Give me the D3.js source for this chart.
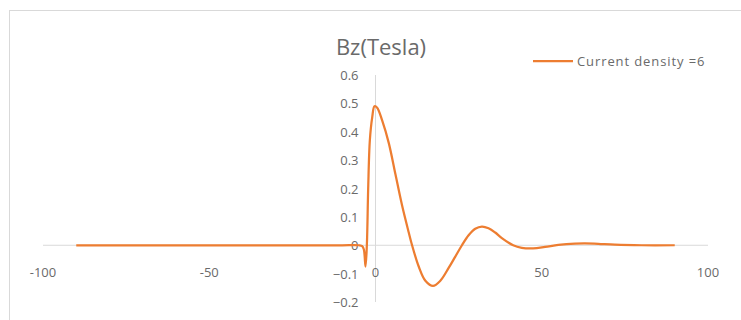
<!DOCTYPE html>
<html>
<head>
<meta charset="utf-8">
<script src="https://cdn.jsdelivr.net/npm/d3@7"></script>
<style>
  html, body { margin: 0; padding: 0; background: #fff; }
  svg { display: block; }
</style>
</head>
<body>
<svg id="chart" width="741" height="320"></svg>
<script>
const title = "Bz(Tesla)";
const seriesName = "Current density =6";
const xValues = [-90, -80, -70, -60, -50, -40, -30, -20, -10, -5, -4, -3.5, -3, -2.6, -2.2, -1.7, -1, -0.3, 0.5, 2, 4, 6, 8, 10, 11, 13, 15, 17.3, 19.5, 22, 24, 26, 28, 30, 32, 34, 36, 38, 41.4, 44, 47.4, 51, 55, 60, 63, 67, 72, 80, 90];
const yValues = [0, 0, 0, 0, 0, 0, 0, 0, 0, 0, -0.003, -0.015, -0.075, 0, 0.2, 0.37, 0.45, 0.49, 0.485, 0.44, 0.36, 0.25, 0.14, 0.045, 0, -0.075, -0.125, -0.143, -0.125, -0.08, -0.04, 0, 0.035, 0.058, 0.066, 0.06, 0.045, 0.025, 0, -0.009, -0.011, -0.006, 0.001, 0.006, 0.007, 0.005, 0.002, 0, 0];
const xTicks = [-100, -50, 0, 50, 100];
const yTicks = [-0.2, -0.1, 0, 0.1, 0.2, 0.3, 0.4, 0.5, 0.6];

const data = xValues.map((x, i) => ({x, y: yValues[i]}));
const svg = d3.select("#chart");
const font = "'Segoe UI', 'Open Sans', 'DejaVu Sans', sans-serif";
const grey = "#6a6a6a";
const axisCol = "#d9d9d9";
const orange = "#ED7D31";

// chart border
svg.append("rect").attr("x", 9.5).attr("y", 10.5).attr("width", 740).attr("height", 330)
  .attr("fill", "none").attr("stroke", "#d9d9d9").attr("stroke-width", 1);

const x = d3.scaleLinear().domain([-100, 100]).range([43, 708]);
const y = d3.scaleLinear().domain([-0.2, 0.6]).range([302, 75]);

// horizontal axis line
svg.append("line").attr("x1", x(-100)).attr("x2", x(100))
  .attr("y1", y(0)).attr("y2", y(0)).attr("stroke", axisCol).attr("stroke-width", 1);
// vertical axis line
svg.append("line").attr("x1", x(0)).attr("x2", x(0))
  .attr("y1", y(0.6)).attr("y2", y(-0.2)).attr("stroke", axisCol).attr("stroke-width", 1);

// x tick labels
svg.append("g").selectAll("text").data(xTicks).join("text")
  .attr("x", d => x(d)).attr("y", 277)
  .attr("text-anchor", "middle")
  .attr("font-family", font).attr("font-size", 13).attr("fill", grey)
  .text(d => d);

// y tick labels
svg.append("g").selectAll("text").data(yTicks).join("text")
  .attr("x", x(0) - 17).attr("y", d => y(d) + 5)
  .attr("text-anchor", "end")
  .attr("font-family", font).attr("font-size", 13).attr("fill", grey)
  .text(d => d === 0 ? "0" : d3.format(".1f")(d));

// line
const line = d3.line().x(d => x(d.x)).y(d => y(d.y)).curve(d3.curveCatmullRom.alpha(0.5));
svg.append("path").datum(data).attr("d", line)
  .attr("fill", "none").attr("stroke", orange).attr("stroke-width", 2.25)
  .attr("stroke-linejoin", "round");

// title
svg.append("text").attr("x", 381).attr("y", 55).attr("text-anchor", "middle")
  .attr("font-family", font).attr("font-size", 22).attr("fill", grey).text(title);

// legend
svg.append("line").attr("x1", 533).attr("x2", 573).attr("y1", 61).attr("y2", 61)
  .attr("stroke", orange).attr("stroke-width", 2.25);
svg.append("text").attr("x", 577).attr("y", 65.5)
  .attr("font-family", font).attr("font-size", 13).attr("letter-spacing", 0.9)
  .attr("fill", grey).text(seriesName);
</script>
</body>
</html>
